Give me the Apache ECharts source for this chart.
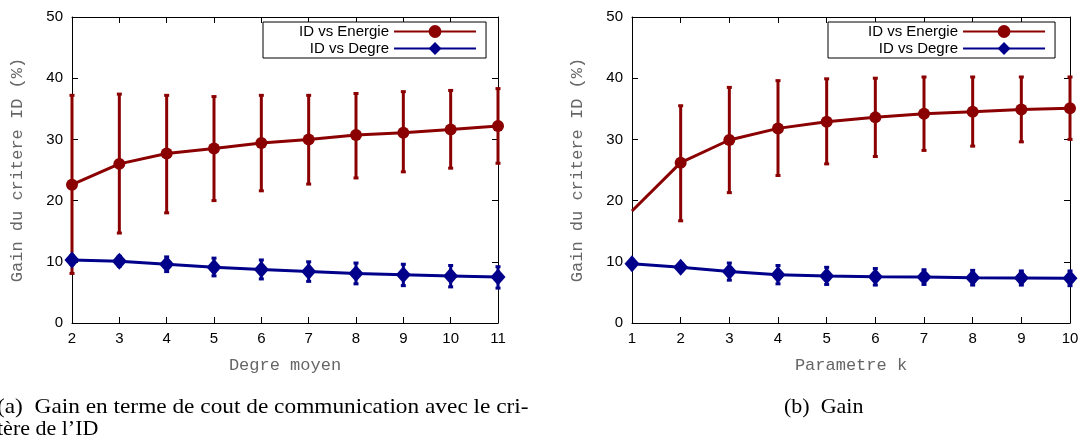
<!DOCTYPE html>
<html>
<head>
<meta charset="utf-8">
<script src="https://cdn.jsdelivr.net/npm/echarts@6/dist/echarts.min.js"></script>
<style>
html,body{margin:0;padding:0;background:#fff;}
#c{width:1084px;height:446px;}
</style>
</head>
<body>
<div id="c"></div>
<script>
// ---- Data ----
const degreMoyen = [2, 3, 4, 5, 6, 7, 8, 9, 10, 11];
const energieA     = [22.6, 26.0, 27.7, 28.5, 29.4, 30.0, 30.7, 31.1, 31.6, 32.2];
const energieALow  = [8.1, 14.7, 18.0, 20.0, 21.6, 22.7, 23.7, 24.7, 25.3, 26.1];
const energieAHigh = [37.2, 37.4, 37.2, 37.0, 37.2, 37.2, 37.5, 37.8, 38.0, 38.3];
const degreA       = [10.3, 10.1, 9.6, 9.1, 8.75, 8.4, 8.1, 7.9, 7.7, 7.5];
const degreALow    = [9.6, 9.3, 8.4, 7.7, 7.2, 6.8, 6.4, 6.1, 5.9, 5.7];
const degreAHigh   = [11.0, 10.9, 10.8, 10.6, 10.3, 10.0, 9.8, 9.6, 9.4, 9.2];

const paramK = [1, 2, 3, 4, 5, 6, 7, 8, 9, 10];
const energieB     = [18.3, 26.2, 29.9, 31.8, 32.9, 33.6, 34.2, 34.5, 34.9, 35.1];
const energieBLow  = [null, 16.7, 21.3, 24.1, 26.0, 27.2, 28.2, 28.9, 29.6, 30.0];
const energieBHigh = [null, 35.5, 38.5, 39.6, 39.9, 40.0, 40.2, 40.2, 40.2, 40.2];
const degreB       = [9.7, 9.1, 8.4, 7.9, 7.7, 7.55, 7.5, 7.4, 7.35, 7.3];
const degreBLow    = [9.2, 8.5, 7.0, 6.4, 6.3, 6.2, 6.3, 6.2, 6.2, 6.1];
const degreBHigh   = [10.2, 9.7, 9.8, 9.4, 9.1, 8.9, 8.7, 8.6, 8.5, 8.5];

const yTicks = [0, 10, 20, 30, 40, 50];
const nameEnergie = 'ID vs Energie';
const nameDegre = 'ID vs Degre';
const yName = 'Gain du critere ID (%)';
const xNameA = 'Degre moyen';
const xNameB = 'Parametre k';
const captionA1 = '(a)  Gain en terme de cout de communication avec le cri-';
const captionA2 = 'tère de l\u2019ID';
const captionB = '(b)  Gain';

// ---- Styles ----
const RED = '#8b0000';
const BLUE = '#00008b';
const SANS = '"Liberation Sans", Arial, sans-serif';
const MONO = '"Liberation Mono", "DejaVu Sans Mono", monospace';
const SERIF = '"Liberation Serif", "Times New Roman", serif';

function pairs(xs, ys) { return xs.map((x, i) => [x, ys[i]]); }
function errData(xs, lo, hi) {
  const out = [];
  xs.forEach((x, i) => { if (lo[i] != null && hi[i] != null) out.push([x, lo[i], hi[i]]); });
  return out;
}
function errRender(color) {
  return function (params, api) {
    const x = api.value(0), lo = api.value(1), hi = api.value(2);
    const p1 = api.coord([x, lo]), p2 = api.coord([x, hi]);
    const c = 2.5;
    return {
      type: 'group',
      children: [
        { type: 'line', shape: { x1: p1[0], y1: p1[1], x2: p2[0], y2: p2[1] }, style: { stroke: color, lineWidth: 3 } },
        { type: 'line', shape: { x1: p1[0] - c, y1: p1[1], x2: p1[0] + c, y2: p1[1] }, style: { stroke: color, lineWidth: 3 } },
        { type: 'line', shape: { x1: p2[0] - c, y1: p2[1], x2: p2[0] + c, y2: p2[1] }, style: { stroke: color, lineWidth: 3 } }
      ]
    };
  };
}

function xAxes(gridIndex, min, max, name) {
  const common = {
    type: 'value', gridIndex, min, max, interval: 1,
    splitLine: { show: false },
    axisLine: { show: true, onZero: false, lineStyle: { color: '#000', width: 1 } },
    axisTick: { show: true, inside: true, length: 6, lineStyle: { color: '#000' } }
  };
  return [
    Object.assign({}, common, {
      position: 'bottom',
      axisLabel: { show: true, color: '#000', fontFamily: SANS, fontSize: 15, margin: 8 },
      name, nameLocation: 'middle', nameGap: 34,
      nameTextStyle: { fontFamily: MONO, fontSize: 17, color: '#666' }
    }),
    Object.assign({}, common, { position: 'top', axisLabel: { show: false } })
  ];
}
function yAxes(gridIndex) {
  const common = {
    type: 'value', gridIndex, min: yTicks[0], max: yTicks[yTicks.length - 1], interval: 10,
    splitLine: { show: false },
    axisLine: { show: true, onZero: false, lineStyle: { color: '#000', width: 1 } },
    axisTick: { show: true, inside: true, length: 6, lineStyle: { color: '#000' } }
  };
  return [
    Object.assign({}, common, {
      position: 'left',
      axisLabel: { show: true, color: '#000', fontFamily: SANS, fontSize: 15, margin: 9 },
      name: yName, nameLocation: 'middle', nameGap: 46, nameRotate: 90,
      nameTextStyle: { fontFamily: MONO, fontSize: 17, color: '#666' }
    }),
    Object.assign({}, common, { position: 'right', axisLabel: { show: false } })
  ];
}

function seriesFor(gridIdx, xs, en, enLo, enHi, dg, dgLo, dgHi, hideFirstRed) {
  const xi = gridIdx * 2, yi = gridIdx * 2;
  const enData = pairs(xs, en).map((p, i) => (hideFirstRed && i === 0) ? { value: p, symbol: 'none' } : p);
  return [
    { type: 'custom', name: nameEnergie + ' (erreur)', xAxisIndex: xi, yAxisIndex: yi, renderItem: errRender(RED),
      data: errData(xs, enLo, enHi), encode: { x: 0, y: [1, 2] }, z: 2, silent: true, clip: false },
    { type: 'line', name: nameEnergie, xAxisIndex: xi, yAxisIndex: yi, data: enData,
      symbol: 'circle', symbolSize: 12, color: RED,
      lineStyle: { color: RED, width: 3 }, itemStyle: { color: RED }, z: 3, clip: true, animation: false },
    { type: 'custom', name: nameDegre + ' (erreur)', xAxisIndex: xi, yAxisIndex: yi, renderItem: errRender(BLUE),
      data: errData(xs, dgLo, dgHi), encode: { x: 0, y: [1, 2] }, z: 4, silent: true, clip: false },
    { type: 'line', name: nameDegre, xAxisIndex: xi, yAxisIndex: yi, data: pairs(xs, dg),
      symbol: 'diamond', symbolSize: [15, 17], color: BLUE,
      lineStyle: { color: BLUE, width: 3 }, itemStyle: { color: BLUE }, z: 5, clip: true, animation: false }
  ];
}

function legendAt(left, padLeft) {
  return {
    data: [nameEnergie, nameDegre],
    orient: 'vertical', left, top: 22, align: 'right',
    padding: [2, 9, 2, padLeft], itemGap: 2, itemWidth: 82, itemHeight: 16,
    borderColor: '#000', borderWidth: 1, borderRadius: 0, backgroundColor: '#fff',
    selectedMode: false,
    textStyle: { fontFamily: SANS, fontSize: 15, color: '#000' }
  };
}

const chart = echarts.init(document.getElementById('c'), null, { renderer: 'canvas' });
chart.setOption({
  animation: false,
  grid: [
    { left: 72, right: 1084 - 498, top: 17, bottom: 446 - 323, show: false },
    { left: 632, right: 1084 - 1070, top: 17, bottom: 446 - 323, show: false }
  ],
  xAxis: [].concat(xAxes(0, degreMoyen[0], degreMoyen[degreMoyen.length - 1], xNameA),
                   xAxes(1, paramK[0], paramK[paramK.length - 1], xNameB)),
  yAxis: [].concat(yAxes(0), yAxes(1)),
  legend: [legendAt(263, 36), legendAt(828, 40)],
  series: [].concat(
    seriesFor(0, degreMoyen, energieA, energieALow, energieAHigh, degreA, degreALow, degreAHigh, false),
    seriesFor(1, paramK, energieB, energieBLow, energieBHigh, degreB, degreBLow, degreBHigh, true)
  ),
  graphic: [
    { type: 'text', x: -3, y: 396, scaleX: 1.06, silent: true,
      style: { text: captionA1, font: '22px ' + SERIF, fill: '#000' } },
    { type: 'text', x: -3, y: 418, silent: true,
      style: { text: captionA2, font: '22px ' + SERIF, fill: '#000' } },
    { type: 'text', x: 784, y: 396, silent: true,
      style: { text: captionB, font: '22px ' + SERIF, fill: '#000' } }
  ]
});
</script>
</body>
</html>
